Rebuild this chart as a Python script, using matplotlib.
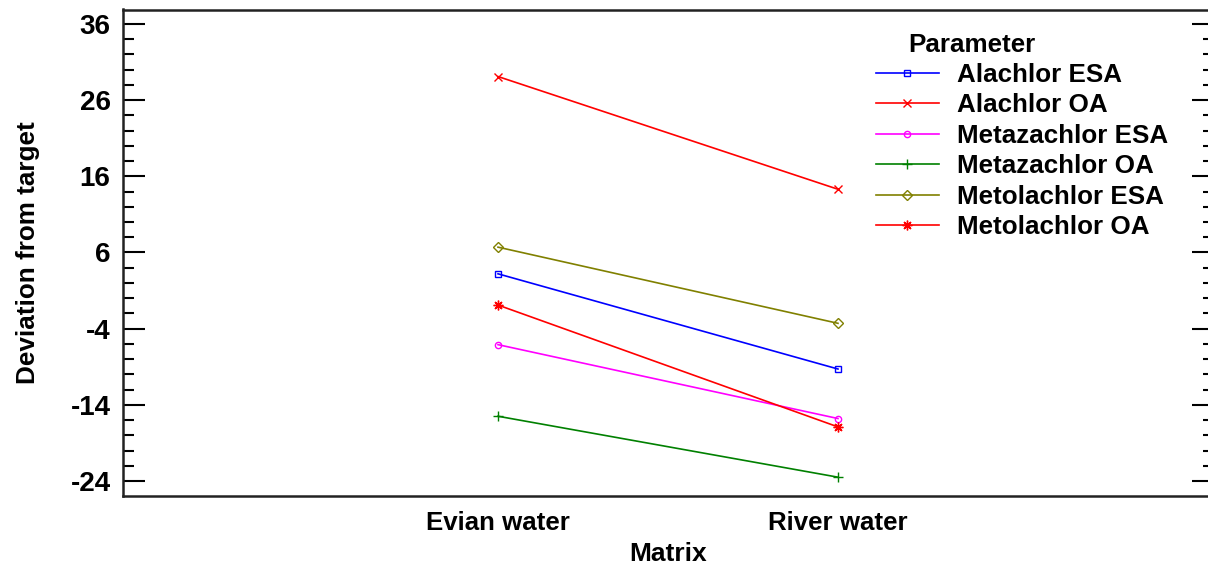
import matplotlib
matplotlib.use("Agg")
import matplotlib.pyplot as plt
from matplotlib.ticker import MultipleLocator

plt.rcParams['font.family'] = ['Liberation Sans', 'DejaVu Sans']
plt.rcParams['font.weight'] = 'bold'

categories = ["Evian water", "River water"]
series_names = ["Alachlor ESA", "Alachlor OA", "Metazachlor ESA",
                "Metazachlor OA", "Metolachlor ESA", "Metolachlor OA"]
alachlor_esa = [3.2, -9.3]
alachlor_oa = [29.1, 14.3]
metazachlor_esa = [-6.1, -15.8]
metazachlor_oa = [-15.5, -23.5]
metolachlor_esa = [6.7, -3.3]
metolachlor_oa = [-0.9, -16.9]
y_ticks = [-24, -14, -4, 6, 16, 26, 36]

series_values = [alachlor_esa, alachlor_oa, metazachlor_esa,
                 metazachlor_oa, metolachlor_esa, metolachlor_oa]
colors = ["#0000FF", "#FF0000", "#FF00FF", "#008000", "#808000", "#FF0000"]
markers = ["s", "x", "o", "+", "D", (8, 2, 0)]
msizes = [4.5, 6, 4.5, 7, 5, 7]

W, H = 1208, 567
fig = plt.figure(figsize=(W / 100, H / 100), dpi=100)
left, right, top, bottom = 123, 1214, 9.5, 496
ax = fig.add_axes([left / W, 1 - bottom / H, (right - left) / W, (bottom - top) / H])

x = list(range(len(categories)))
for name, vals, c, m, ms in zip(series_names, series_values, colors, markers, msizes):
    ax.plot(x, vals, color=c, marker=m, markersize=ms, markerfacecolor='none',
            markeredgecolor=c, markeredgewidth=1.0, linewidth=1.2, label=name)

ax.set_xlim(-1.103, 2.106)
ax.set_ylim(-25.97, 37.9)
ax.set_xticks(x)
ax.set_xticklabels(categories, fontsize=18.6, fontweight='bold')
ax.set_yticks(y_ticks)
ax.set_yticklabels([str(v) for v in y_ticks], fontsize=20, fontweight='bold')
ax.yaxis.set_minor_locator(MultipleLocator(2))
ax.tick_params(axis='y', which='major', direction='in', length=16, width=1.5,
               left=True, right=True, pad=9)
ax.tick_params(axis='y', which='minor', direction='in', length=8, width=1.5,
               left=True, right=True)
ax.tick_params(axis='x', which='both', length=0, pad=11)
for s in ax.spines.values():
    s.set_linewidth(1.8)
    s.set_color('#222222')

ax.set_xlabel("Matrix", fontsize=19, fontweight='bold', labelpad=5)
ax.set_ylabel("Deviation from target", fontsize=18.8, fontweight='bold', labelpad=22)

leg = ax.legend(loc='upper left', bbox_to_anchor=((876 - left) / (right - left), (bottom - 63) / (bottom - top)),
                frameon=False, fontsize=18.7, numpoints=1, borderpad=0.0,
                handlelength=2.42, handletextpad=0.68, labelspacing=0.25,
                borderaxespad=0.0)
ax.text((908 - left) / (right - left), (bottom - 45) / (bottom - top), "Parameter",
        transform=ax.transAxes, fontsize=18.7, fontweight='bold',
        ha='left', va='center')

fig.savefig("out.png", dpi=100)
